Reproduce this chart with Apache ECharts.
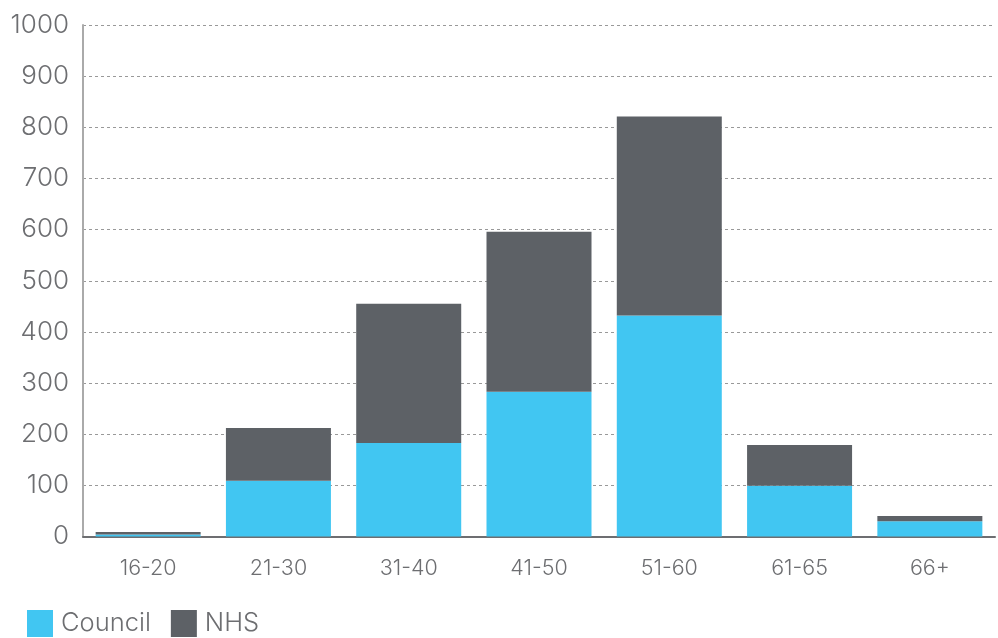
<!DOCTYPE html>
<html><head><meta charset="utf-8">
<script src="https://cdn.jsdelivr.net/npm/echarts@6/dist/echarts.min.js"></script>
<style>html,body{margin:0;padding:0;background:#fff}#c{width:998px;height:638px}</style>
</head><body><div id="c"></div>
<script>
const categories = ['16-20','21-30','31-40','41-50','51-60','61-65','66+'];
const council = [4, 109, 183, 283, 432, 99, 30];
const nhs = [5, 103, 272, 313, 389, 80, 10];
const yTicks = [0,100,200,300,400,500,600,700,800,900,1000];

const FONT = 'Inter';
const chart = echarts.init(document.getElementById('c'), null, {renderer:'canvas'});
chart.setOption({
  animation:false,
  textStyle:{fontFamily:FONT},
  grid:{left:83, right:3, top:25, bottom:101.5, containLabel:false},
  legend:{
    left:22, bottom:-4, itemWidth:26, itemHeight:27, itemGap:20,
    icon:'rect',
    textStyle:{fontSize:25.5, color:'#6d6e71', fontFamily:FONT, fontWeight:300, padding:[0,0,0,3]},
    data:['Council','NHS']
  },
  xAxis:{
    type:'category', data:categories,
    axisLine:{lineStyle:{color:'#6d6e71', width:2}},
    axisTick:{show:false},
    axisLabel:{fontSize:21.5, color:'#6d6e71', fontFamily:FONT, fontWeight:300, margin:21}
  },
  yAxis:{
    type:'value', min:0, max:1000, interval:100,
    axisLine:{show:true, lineStyle:{color:'#aaaaaa', width:2}},
    axisTick:{show:false},
    axisLabel:{fontSize:26, color:'#6d6e71', fontFamily:FONT, fontWeight:300, margin:14,
      formatter:v=> yTicks.includes(v) ? String(v) : ''},
    splitLine:{lineStyle:{type:[3,3], color:'#999999', width:1}}
  },
  series:[
    {name:'Council', type:'bar', stack:'a', data:council, barWidth:105, itemStyle:{color:'#41c6f2'}},
    {name:'NHS', type:'bar', stack:'a', data:nhs, barWidth:105, itemStyle:{color:'#5d6166'}}
  ]
});
</script></body></html>
